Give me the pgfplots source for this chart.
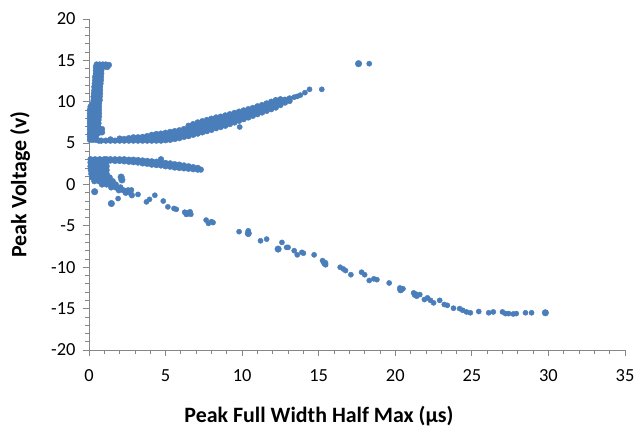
\documentclass[border=0pt]{standalone}
\usepackage{pgfplots}
\pgfplotsset{compat=1.18}
\usepackage{fontspec}
\setmainfont{Carlito}
\definecolor{mk}{RGB}{74,126,187}
\definecolor{axgray}{RGB}{134,134,134}
\begin{document}
\begin{tikzpicture}
\useasboundingbox (-89bp,-77bp) rectangle (550bp,350bp);
\begin{axis}[
  at={(0,0)}, anchor=south west,
  scale only axis, width=536bp, height=331bp,
  xmin=0, xmax=35, ymin=-20, ymax=20,
  axis lines=left,
  axis line style={-, axgray, line width=0.8bp},
  xtick={0,5,...,35}, ytick={-20,-15,...,20},
  minor x tick num=4, minor y tick num=4,
  tick align=outside,
  tick style={axgray, line width=0.8bp},
  major tick length=6bp, minor tick length=4bp,
  /pgf/number format/assume math mode=true,
  ticklabel style={font=\fontsize{18.5}{18.5}\selectfont, text=black},
  yticklabel style={xshift=-4bp},
  xticklabel style={yshift=-10bp},
  xlabel={Peak Full Width Half Max (µs)},
  ylabel={Peak Voltage (v)},
  label style={font=\fontsize{22}{22}\selectfont\bfseries},
  xlabel style={at={(axis description cs:0.429,0)}, anchor=base, yshift=-72bp},
  ylabel style={at={(axis description cs:-0.1287,0.5)}, anchor=center},
  clip=false,
]
% dense clusters
\addplot[only marks, mark=*, mark size=2.9bp, mk, mark options={draw=mk, fill=mk}] coordinates {
(0.5,14.5)(0.7,14.5)(0.9,14.5)(1.1,14.5)(1.3,14.45)
(0.45,14.2)(0.65,14.2)(0.85,14.2)(1.05,14.25)(1.2,14.2)
(0.45,13.8)(0.65,13.8)(0.8,13.8)
(0.45,13.4)(0.65,13.4)(0.8,13.4)
(0.4,13.0)(0.6,13.0)(0.78,13.0)
(0.4,12.6)(0.6,12.6)(0.78,12.6)
(0.38,12.2)(0.58,12.2)(0.75,12.2)
(0.35,11.8)(0.55,11.8)(0.72,11.8)
(0.35,11.4)(0.55,11.4)(0.72,11.4)
(0.32,11.0)(0.52,11.0)(0.72,11.0)
(0.3,10.6)(0.5,10.6)(0.7,10.6)
(0.3,10.2)(0.5,10.2)(0.7,10.2)
(0.25,9.8)(0.45,9.8)(0.65,9.8)
(0.1,9.4)(0.28,9.4)(0.45,9.4)(0.65,9.4)
(0.06,9.0)(0.25,9.0)(0.45,9.0)(0.65,9.0)
(0.06,8.6)(0.25,8.6)(0.45,8.6)(0.65,8.6)
(0.06,8.2)(0.25,8.2)(0.45,8.2)(0.65,8.2)
(0.06,7.8)(0.25,7.8)(0.45,7.8)(0.62,7.8)
(0.06,7.4)(0.25,7.4)(0.45,7.4)(0.62,7.4)
(0.06,7.0)(0.25,7.0)(0.45,7.0)(0.6,7.0)
(0.06,6.6)(0.25,6.6)(0.45,6.6)(0.6,6.6)(0.85,6.7)
(0.06,6.2)(0.25,6.2)(0.45,6.2)(0.6,6.2)(0.85,6.3)
(0.06,5.8)(0.25,5.8)(0.45,5.8)
(0.06,5.4)(0.25,5.4)(0.45,5.4)(0.65,5.3)
(0.8,5.3)(1.1,5.3)(1.4,5.3)(1.4,5.45)(1.7,5.3)(2.0,5.3)(2.0,5.55)(2.3,5.3)(2.3,5.5)
(2.6,5.3)(2.6,5.6)(2.9,5.3)(2.9,5.7)(3.2,5.3)(3.2,5.7)(3.5,5.3)(3.5,5.75)(3.8,5.3)(3.8,5.85)
(4.1,5.3)(4.1,5.8)(4.1,6.0)(4.4,5.3)(4.4,5.7)(4.4,6.1)(4.7,5.3)(4.7,5.75)(4.7,6.15)
(5.0,5.35)(5.0,5.8)(5.0,6.25)(5.3,5.4)(5.3,5.85)(5.3,6.35)(5.6,5.5)(5.6,5.95)(5.6,6.45)
(5.9,5.6)(5.9,6.05)(5.9,6.55)(6.2,5.75)(6.2,6.2)(6.2,6.7)(6.5,5.85)(6.5,6.3)(6.5,6.8)(6.5,7.1)
(6.8,6.0)(6.8,6.45)(6.8,6.95)(6.8,7.3)(7.1,6.15)(7.1,6.6)(7.1,7.05)(7.1,7.5)
(7.4,6.3)(7.4,6.8)(7.4,7.25)(7.4,7.65)(7.7,6.45)(7.7,6.9)(7.7,7.4)(7.7,7.8)
(8.0,6.6)(8.0,7.1)(8.0,7.55)(8.0,7.95)(8.3,6.8)(8.3,7.3)(8.3,7.7)(8.3,8.1)
(8.6,6.95)(8.6,7.4)(8.6,7.85)(8.6,8.2)(8.9,7.1)(8.9,7.55)(8.9,8.0)(8.9,8.35)
(9.2,7.3)(9.2,7.75)(9.2,8.15)(9.2,8.5)(9.5,7.5)(9.5,7.9)(9.5,8.3)(9.5,8.65)
(9.8,7.7)(9.8,8.1)(9.8,8.5)(9.8,8.8)(10.1,7.9)(10.1,8.3)(10.1,8.7)(10.1,8.95)
(10.4,8.1)(10.4,8.5)(10.4,8.85)(10.4,9.1)(10.7,8.3)(10.7,8.7)(10.7,9.05)(10.7,9.25)
(11.0,8.5)(11.0,8.9)(11.0,9.25)(11.0,9.45)(11.3,8.7)(11.3,9.1)(11.3,9.45)(11.3,9.6)
(11.6,8.9)(11.6,9.3)(11.6,9.6)(11.6,9.8)(11.9,9.1)(11.9,9.5)(11.9,9.8)(11.9,10.0)
(12.2,9.3)(12.2,9.7)(12.2,10.05)(12.2,10.2)(12.5,9.6)(12.5,10.0)(12.5,10.3)
(12.8,9.9)(12.8,10.25)(13.1,10.1)(13.1,10.4)
(1.4,2.9)(1.4,3.05)(1.7,2.85)(1.7,3.05)(2.0,2.85)(2.0,3.05)(2.3,2.8)(2.3,3.05)
(2.6,2.75)(2.6,3.0)(2.9,2.7)(2.9,3.0)(3.2,2.65)(3.2,2.95)(3.5,2.55)(3.5,2.9)
(3.8,2.5)(3.8,2.85)(4.1,2.4)(4.1,2.8)(4.4,2.35)(4.4,2.75)(4.7,2.3)(4.7,2.7)(4.7,3.05)
(5.0,2.2)(5.0,2.6)(5.3,2.15)(5.3,2.55)(5.6,2.05)(5.6,2.45)(5.9,2.0)(5.9,2.4)
(6.2,1.95)(6.2,2.3)(6.5,1.9)(6.5,2.2)(6.8,1.85)(6.8,2.1)(7.1,1.8)(7.1,2.0)(7.3,1.8)
(0.1,3.05)(0.4,3.05)(0.7,3.05)(1.0,3.05)(1.15,3.05)
(0.1,2.65)(0.4,2.65)(0.7,2.65)(1.0,2.65)(1.15,2.65)
(0.1,2.2)(0.4,2.2)(0.7,2.2)(1.0,2.2)(1.15,2.2)
(0.12,1.75)(0.42,1.75)(0.72,1.75)(1.02,1.75)(1.15,1.75)
(0.15,1.3)(0.45,1.3)(0.75,1.3)(1.05,1.3)(1.15,1.3)
(0.2,0.85)(0.5,0.85)(0.8,0.85)(1.1,0.85)(1.35,0.85)
(0.35,0.4)(0.65,0.4)(0.95,0.4)(1.25,0.4)(1.55,0.4)
(0.85,0.0)(1.15,0.0)(1.45,0.0)(1.75,0.0)
(1.45,-0.35)(1.75,-0.35)(2.05,-0.35)
(1.95,-0.7)(2.25,-0.7)(2.55,-0.7)
(2.4,-1.0)(2.7,-1.0)(2.8,-1.3)
};
% regular points
\addplot[only marks, mark=*, mark size=2.6bp, mk, mark options={draw=mk, fill=mk}] coordinates {
(13.4,10.55)(13.6,10.65)(13.8,10.8)(14.1,11.1)(14.4,11.5)(15.2,11.5)(18.3,14.6)(9.84,6.95)
(1.9,-1.7)(2.77,-0.66)(3.2,-1.2)(3.75,-2.1)(3.95,-1.8)(4.3,-1.3)(4.85,-2.0)(5.15,-2.7)
(5.55,-2.9)(5.7,-3.0)(6.25,-3.35)(6.35,-3.6)(6.6,-3.3)(6.65,-3.6)(7.65,-4.3)(7.8,-4.7)
(8.0,-4.5)(8.1,-4.6)(9.8,-5.7)(10.4,-5.6)(10.4,-6.0)(11.2,-6.8)(11.6,-6.6)(12.35,-7.8)
(12.6,-7.0)(12.9,-7.6)(13.0,-7.6)(13.4,-8.0)(13.6,-8.5)(13.9,-8.2)(14.0,-8.3)(14.7,-8.5)
(15.25,-9.2)(15.35,-9.5)(15.45,-9.7)(16.4,-10.0)(16.6,-10.2)(16.75,-10.4)(17.1,-10.9)
(17.8,-10.6)(18.0,-10.9)(18.3,-11.6)(18.6,-11.4)(18.8,-11.5)(19.6,-11.9)(20.3,-12.5)
(20.35,-12.8)(20.5,-12.6)(21.2,-13.1)(21.4,-13.5)(21.6,-13.3)(21.9,-13.9)(22.1,-13.7)
(22.3,-14.0)(22.5,-14.3)(22.9,-14.0)(23.2,-14.5)(23.4,-14.6)(23.8,-14.95)(24.2,-15.0)
(24.4,-15.2)(24.65,-15.4)(24.9,-15.5)(25.45,-15.35)(26.1,-15.5)(26.4,-15.4)(27.0,-15.4)
(27.2,-15.6)(27.4,-15.6)(27.7,-15.65)(27.9,-15.6)(28.5,-15.5)(28.9,-15.5)(29.8,-15.5)
};
% larger points
\addplot[only marks, mark=*, mark size=3.3bp, mk, mark options={draw=mk, fill=mk}] coordinates {
(17.6,14.6)(1.46,-2.3)(0.37,-0.87)(2.1,0.9)(2.15,0.55)(12.35,-7.8)(20.35,-12.7)
(10.4,-5.9)(6.4,-3.5)(21.3,-13.3)(29.8,-15.5)(15.4,-9.5)
};
\end{axis}
\end{tikzpicture}
\end{document}
